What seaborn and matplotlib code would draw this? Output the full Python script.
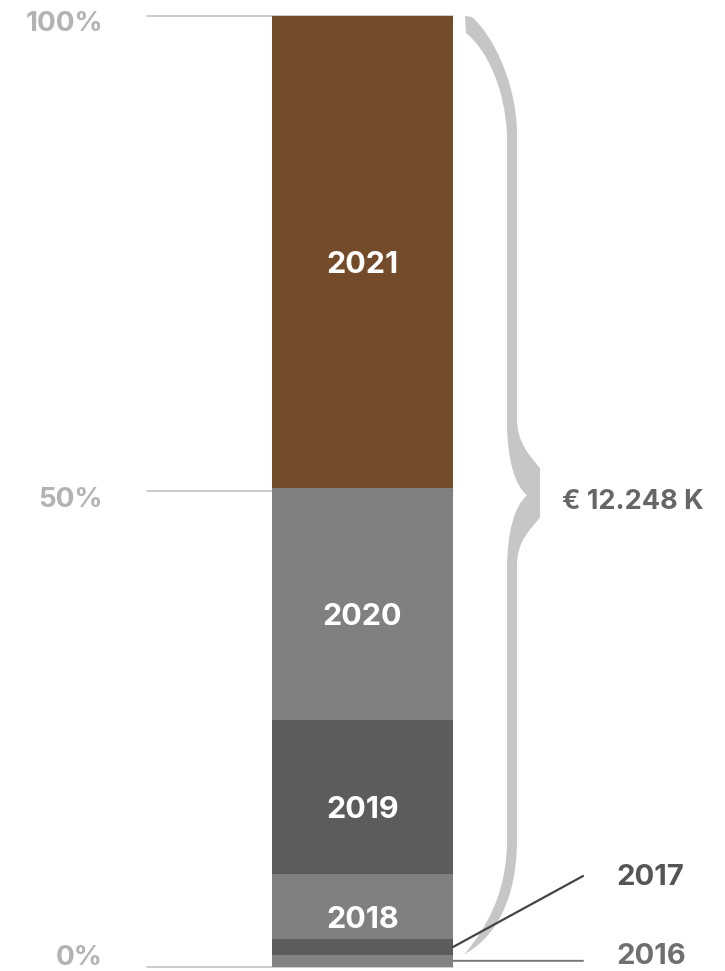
import numpy as np
import pandas as pd
import seaborn as sns
import matplotlib.pyplot as plt
from matplotlib.path import Path
from matplotlib.patches import PathPatch

# share of the total per year, bottom to top (percent)
years = ["2016", "2017", "2018", "2019", "2020", "2021"]
shares = [1.3, 1.6, 6.9, 16.2, 24.4, 49.6]
colors = ["#828282", "#5c5c5c", "#808080", "#5c5c5c", "#808080", "#754c29"]
tick_vals = [0, 50, 100]
tick_labels = ["0%", "50%", "100%"]
total_label = "€ 12.248 K"

sns.set_theme(style="white")
plt.rcParams["font.family"] = ["Inter", "DejaVu Sans"]

df = pd.DataFrame({"year": years, "share": shares, "color": colors})
df["bottom"] = df["share"].cumsum() - df["share"]
df["mid"] = df["bottom"] + df["share"] / 2

fig = plt.figure(figsize=(7.25, 9.71), dpi=100)
W, H = 725, 971
ax = fig.add_axes([147 / W, 4 / H, 306 / W, 951 / H])

for _, r in df.iterrows():
    sns.barplot(x=["total"], y=[r["share"]], bottom=r["bottom"], color=r["color"],
                saturation=1, width=1, edgecolor="none", linewidth=0, ax=ax, zorder=2)

ax.set_xlim(-0.5 - 125 / 181, 0.5)
ax.set_ylim(0, 100)
ax.set_xticks([])
ax.set_yticks([])
ax.set_xlabel("")
ax.set_ylabel("")
sns.despine(ax=ax, left=True, bottom=True)

# gridlines + percent labels
for v, lab in zip(tick_vals, tick_labels):
    ax.axhline(v, color="#c8c8c8", lw=1.3, zorder=1, clip_on=False)
    ax.annotate(lab, xy=(0, v), xycoords=("axes fraction", "data"),
                xytext=(-44, 2 if v == 0 else -5), textcoords="offset pixels",
                ha="right", va="baseline" if v == 0 else "center_baseline",
                fontsize=20, fontweight="bold", color="#b3b3b3",
                annotation_clip=False)

# white labels inside big segments
for _, r in df[df["share"] > 5].iterrows():
    ax.annotate(r["year"], xy=(0, r["mid"]), xytext=(0, -10), textcoords="offset pixels",
                ha="center", va="center_baseline", fontsize=22, fontweight="bold",
                color="white", zorder=3)

# leader lines for the thin segments
r17 = df.iloc[1]
r16 = df.iloc[0]
ax.annotate("", xy=(0.5, r17["mid"]), xytext=(130, 71), textcoords="offset pixels",
            arrowprops=dict(arrowstyle="-", color="#444444", lw=1.6, shrinkA=0, shrinkB=0),
            annotation_clip=False)
ax.annotate("2017", xy=(0.5, r17["mid"]), xytext=(163, 73), textcoords="offset pixels",
            ha="left", va="center_baseline", fontsize=21, fontweight="bold",
            color="#555555", annotation_clip=False)
ax.annotate("", xy=(0.5, r16["mid"]), xytext=(130, 0), textcoords="offset pixels",
            arrowprops=dict(arrowstyle="-", color="#777777", lw=1.4, shrinkA=0, shrinkB=0),
            annotation_clip=False)
ax.annotate("2016", xy=(0.5, r16["mid"]), xytext=(163, 7), textcoords="offset pixels",
            ha="left", va="center_baseline", fontsize=21, fontweight="bold",
            color="#6f6f6f", annotation_clip=False)

# curly brace over 2017..2021
kx = 1 / 181          # data units per pixel (x)
ky = 100 / 951        # data units per pixel (y)
yt = 100
yb = df["bottom"].iloc[1]
ym = 49.8


def P(px, y_anchor, dy):
    # px: pixels right of bar edge, dy: pixels downward from anchor
    return (0.5 + px * kx, y_anchor - dy * ky)


verts = [
    P(19, yt, 1),
    P(40, yt, 20), P(62, yt, 64), P(64, yt, 114),
    P(64, ym, -75),
    P(64, ym, -50), P(77, ym, -38), P(87, ym, -25),
    P(87, ym, 24),
    P(77, ym, 37), P(64, ym, 47), P(64, ym, 72),
    P(64, yb, -115),
    P(64, yb, -55), P(42, yb, -18), P(14, yb, -2),
    P(11, yb, 0),
    P(32, yb, -25), P(54, yb, -60), P(54, yb, -115),
    P(54, ym, 77),
    P(54, ym, 37), P(62, ym, 12), P(74, ym, 2),
    P(62, ym, -8), P(54, ym, -33), P(54, ym, -73),
    P(54, yt, 119),
    P(52, yt, 72), P(34, yt, 34), P(13, yt, 17),
    P(12, yt, 0),
    P(19, yt, 1),
]
codes = ([Path.MOVETO] + [Path.CURVE4] * 3 + [Path.LINETO] + [Path.CURVE4] * 3 +
         [Path.LINETO] + [Path.CURVE4] * 3 + [Path.LINETO] + [Path.CURVE4] * 3 +
         [Path.LINETO] + [Path.CURVE4] * 3 + [Path.LINETO] + [Path.CURVE4] * 6 +
         [Path.LINETO] + [Path.CURVE4] * 3 + [Path.LINETO] + [Path.CLOSEPOLY])
brace = PathPatch(Path(verts, codes), facecolor="#c6c6c6", edgecolor="none",
                  clip_on=False, zorder=1)
ax.add_patch(brace)

ax.annotate(total_label, xy=(0.5, ym), xytext=(109, -6), textcoords="offset pixels",
            ha="left", va="center_baseline", fontsize=19.5, fontweight="bold",
            color="#666666", annotation_clip=False)

fig.savefig("out.png", dpi=100)
